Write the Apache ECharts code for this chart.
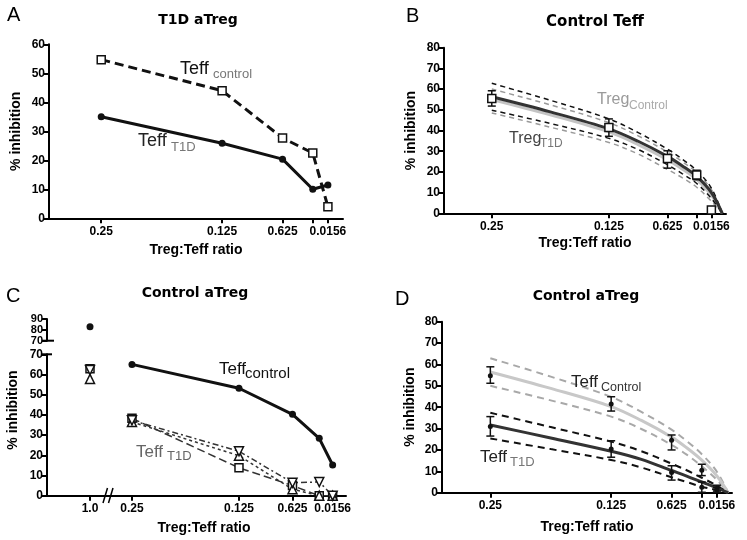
<!DOCTYPE html>
<html>
<head>
<meta charset="utf-8">
<script src="https://cdn.jsdelivr.net/npm/echarts@6/dist/echarts.min.js"></script>
<style>html,body{margin:0;padding:0;background:#fff;}#chart{width:747px;height:540px;}</style>
</head>
<body>
<div id="chart"></div>
<script>
// ---------- shared x ticks ----------
const xTickValues = [0.25, 0.125, 0.0625, 0.03125, 0.0156];
const xTickLabels = ['0.25', '0.125', '0.625', '', '0.0156'];
const ratios = [0.25, 0.125, 0.0625, 0.03125, 0.0156];
const curveX = [0.25, 0.1875, 0.125, 0.09375, 0.0625, 0.046875, 0.03125, 0.0156, 0.004];

// ---------- Panel A: T1D aTreg ----------
const aTeffControl = [54.7, 44.0, 27.7, 22.5, 4.0];
const aTeffT1D = [35.0, 25.9, 20.4, 10.0, 11.5];

// ---------- Panel B: Control Teff ----------
const bMean = [55.5, 41.5, 26.5, 18.5, 1.6];
const bLow = [51.8, 37.2, 21.8, 16.2, 1.6];
const bHigh = [59.2, 45.6, 30.2, 20.8, 1.6];
const bFitT1D = [56.3, 49.0, 40.8, 34.8, 27.5, 23.0, 17.8, 10.0, 0];
const bFitControl = [55.0, 47.6, 39.3, 33.2, 25.9, 21.4, 16.4, 8.8, 0];
const bCiT1DUpper = [62.8, 54.6, 45.6, 39.0, 31.0, 26.2, 20.6, 12.2, 0];
const bCiT1DLower = [49.8, 43.4, 36.2, 30.8, 23.5, 19.2, 14.4, 7.2, 0];
const bCiControlUpper = [60.0, 52.4, 43.8, 37.4, 29.6, 25.0, 19.6, 11.4, 0];
const bCiControlLower = [48.5, 41.6, 34.2, 28.6, 21.2, 17.2, 12.6, 5.8, 0];

// ---------- Panel C: Control aTreg ----------
const cOneLabel = ['1.0'];
const cOneControl = [82.9];
const cOneSquare = [62.8];
const cOneDown = [62.2];
const cOneUp = [57.8];
const cTeffControl = [65.0, 53.2, 40.3, 28.4, 15.2];
const cT1DSquare = [38.3, 13.8, 5.0, 0, 0];
const cT1DUp = [36.5, 19.8, 3.2, 0, 0];
const cT1DDown = [37.3, 22.0, 6.4, 6.8, 0];

// ---------- Panel D: Control aTreg ----------
const dCtrlMean = [54.7, 41.5, 24.5, 10.5, 2.0];
const dCtrlLow = [51.2, 38.2, 20.0, 8.0, 0.8];
const dCtrlHigh = [58.9, 44.9, 27.0, 13.3, 3.5];
const dT1DMean = [31.0, 20.5, 9.5, 2.5, 1.0];
const dT1DLow = [26.5, 16.6, 5.9, 0.2, 0.2];
const dT1DHigh = [35.6, 24.3, 12.6, 5.0, 2.5];
const dFitControl = [56.5, 48.8, 40.3, 33.8, 26.0, 21.0, 15.2, 7.8, 0];
const dCiControlUpper = [62.9, 54.3, 44.8, 37.8, 29.5, 24.2, 18.0, 9.8, 0];
const dCiControlLower = [50.0, 43.2, 35.6, 29.8, 22.4, 17.8, 12.4, 6.0, 0];
const dFitT1D = [31.7, 25.6, 19.4, 15.6, 10.4, 7.8, 5.0, 2.3, 0];
const dCiT1DUpper = [37.4, 30.7, 23.9, 19.4, 13.6, 10.5, 7.0, 3.3, 0];
const dCiT1DLower = [25.4, 20.4, 15.3, 11.8, 7.2, 5.0, 2.8, 1.2, 0];

const FONT = '"Liberation Sans", Arial, sans-serif';
const TFONT = '"DejaVu Sans", sans-serif';

function labelFor(v) {
  for (let i = 0; i < xTickValues.length; i++) {
    if (Math.abs(xTickValues[i] - v) < 1e-9) return xTickLabels[i];
  }
  return '';
}
const pairs = (xs, ys) => xs.map((x, i) => [x, ys[i]]);

function xVal(grid, max, name, gap) {
  return {
    type: 'value', gridIndex: grid, min: 0, max: max, inverse: true,
    axisLine: {show: true, onZero: false, lineStyle: {color: '#000', width: 2}},
    axisTick: {show: true, customValues: xTickValues, length: 5, lineStyle: {color: '#000', width: 2}},
    axisLabel: {show: true, customValues: xTickValues, formatter: labelFor, color: '#000',
      fontWeight: 'bold', fontSize: 12, fontFamily: FONT, margin: 7},
    splitLine: {show: false},
    name: name || '', nameLocation: 'middle', nameGap: gap || 25,
    nameTextStyle: {color: '#000', fontWeight: 'bold', fontSize: 14, fontFamily: FONT}
  };
}
function yVal(grid, min, max, show, name, gap, labelExtra) {
  return {
    type: 'value', gridIndex: grid, min: min, max: max, interval: 10, show: show,
    axisLine: {show: true, onZero: false, lineStyle: {color: '#000', width: 2}},
    axisTick: {show: true, length: 5, lineStyle: {color: '#000', width: 2}},
    axisLabel: Object.assign({show: true, showMinLabel: true, showMaxLabel: true, hideOverlap: false,
      color: '#000', fontWeight: 'bold', fontSize: 12, fontFamily: FONT, margin: 4}, labelExtra || {}),
    splitLine: {show: false},
    name: name || '', nameLocation: 'middle', nameGap: gap || 25,
    nameTextStyle: {color: '#000', fontWeight: 'bold', fontSize: 14, fontFamily: FONT}
  };
}
function line(grid, xs, ys, color, width, dash, symbol, extra) {
  const s = {
    type: 'line', xAxisIndex: grid, yAxisIndex: grid, data: pairs(xs, ys),
    lineStyle: {color: color, width: width, type: dash || 'solid'},
    symbol: symbol ? symbol.type : 'none', symbolSize: symbol ? symbol.size : 0,
    symbolRotate: symbol && symbol.rotate ? symbol.rotate : 0,
    itemStyle: symbol ? (symbol.open ? {color: '#fff', borderColor: '#111', borderWidth: 1.5, opacity: 1}
                                    : {color: '#111', borderColor: '#111', borderWidth: 0, opacity: 1}) : {color: color},
    showSymbol: !!symbol, animation: false, z: 3
  };
  return Object.assign(s, extra || {});
}
function curve(grid, ys, color, width, dash) {
  return line(grid, curveX, ys, color, width, dash, null, {smooth: 0.35, z: 2});
}
function errBars(grid, xs, lo, hi) {
  return {
    type: 'custom', xAxisIndex: grid, yAxisIndex: grid,
    data: xs.map((x, i) => [x, lo[i], hi[i]]),
    encode: {x: 0, y: [1, 2]}, z: 4, animation: false,
    renderItem: function (params, api) {
      const x = api.value(0), l = api.value(1), h = api.value(2);
      if (l === h) return null;
      const a = api.coord([x, l]), b = api.coord([x, h]);
      const w = 4, st = {stroke: '#111', lineWidth: 1.5};
      return {type: 'group', children: [
        {type: 'line', shape: {x1: a[0], y1: a[1], x2: b[0], y2: b[1]}, style: st},
        {type: 'line', shape: {x1: a[0] - w, y1: a[1], x2: a[0] + w, y2: a[1]}, style: st},
        {type: 'line', shape: {x1: b[0] - w, y1: b[1], x2: b[0] + w, y2: b[1]}, style: st}
      ]};
    }
  };
}
function scat(grid, xs, ys, symbol, size, open, rotate) {
  return {
    type: 'scatter', xAxisIndex: grid, yAxisIndex: grid, data: pairs(xs, ys),
    symbol: symbol, symbolSize: size, symbolRotate: rotate || 0, z: 5, animation: false,
    itemStyle: open ? {color: '#fff', borderColor: '#111', borderWidth: 1.5, opacity: 1} : {color: '#111', opacity: 1}
  };
}
function txt(x, y, text, font, fill, align, extra) {
  return Object.assign({
    type: 'text', x: x, y: y, z: 10,
    style: {text: text, x: 0, y: 0, font: font, fill: fill || '#000',
      align: align || 'left', textAlign: align || 'left', verticalAlign: 'middle', textVerticalAlign: 'middle'}
  }, extra || {});
}
function seg(x1, y1, x2, y2, w) {
  return {type: 'line', z: 10, shape: {x1: x1, y1: y1, x2: x2, y2: y2}, style: {stroke: '#000', lineWidth: w || 2}};
}

const chart = echarts.init(document.getElementById('chart'), null, {renderer: 'canvas'});
const catX = (grid, show) => ({
  type: 'category', gridIndex: grid, data: cOneLabel, show: show, boundaryGap: true,
  axisLine: {show: true, onZero: false, lineStyle: {color: '#000', width: 2}},
  axisTick: {show: true, alignWithLabel: true, length: 5, lineStyle: {color: '#000', width: 2}},
  axisLabel: {show: true, color: '#000', fontWeight: 'bold', fontSize: 12, fontFamily: FONT, margin: 7},
  splitLine: {show: false}
});

const option = {
  backgroundColor: '#fff',
  animation: false,
  grid: [
    {left: 49, top: 44.3, width: 294, height: 174, outerBoundsMode: 'none'},
    {left: 444, top: 47.7, width: 282, height: 165.6, outerBoundsMode: 'none'},
    {left: 47, top: 319, width: 86, height: 21.7, outerBoundsMode: 'none'},
    {left: 47, top: 354.3, width: 86, height: 141.4, outerBoundsMode: 'none'},
    {left: 108, top: 354.3, width: 238, height: 141.4, outerBoundsMode: 'none'},
    {left: 442, top: 321.7, width: 290, height: 171, outerBoundsMode: 'none'}
  ],
  xAxis: [
    xVal(0, 0.304, 'Treg:Teff ratio', 25),
    xVal(1, 0.301, 'Treg:Teff ratio', 23),
    catX(2, false),
    catX(3, true),
    xVal(4, 0.278),
    xVal(5, 0.3, 'Treg:Teff ratio', 27)
  ],
  yAxis: [
    yVal(0, 0, 60, true, '% inhibition', 26),
    yVal(1, 0, 80, true, '% inhibition', 26),
    yVal(2, 70, 90, true, '', 25, {fontSize: 11, lineHeight: 9}),
    yVal(3, 0, 70, true),
    yVal(4, 0, 70, false),
    yVal(5, 0, 80, true, '% inhibition', 25)
  ],
  series: [
    // A
    line(0, ratios, aTeffT1D, '#111', 3, 'solid', {type: 'circle', size: 7}),
    line(0, ratios, aTeffControl, '#111', 3, [9, 5], {type: 'rect', size: 8, open: true}),
    // B
    curve(1, bCiControlUpper, '#9a9a9a', 1.5, [5, 4]),
    curve(1, bCiControlLower, '#9a9a9a', 1.5, [5, 4]),
    curve(1, bFitControl, '#c4c4c4', 3, 'solid'),
    curve(1, bCiT1DUpper, '#111', 1.5, [5, 4]),
    curve(1, bCiT1DLower, '#111', 1.5, [5, 4]),
    curve(1, bFitT1D, '#333', 3, 'solid'),
    errBars(1, ratios, bLow, bHigh),
    scat(1, ratios, bMean, 'rect', 8, true),
    // C upper / left
    scat(2, cOneLabel, cOneControl, 'circle', 7, false),
    scat(3, cOneLabel, cOneSquare, 'rect', 8, true),
    scat(3, cOneLabel, cOneDown, 'triangle', 9, true, 180),
    scat(3, cOneLabel, cOneUp, 'triangle', 9, true),
    // C right
    line(4, ratios, cT1DSquare, '#333', 1.5, [8, 4], {type: 'rect', size: 8, open: true}),
    line(4, ratios, cT1DUp, '#333', 1.5, [3, 3], {type: 'triangle', size: 9, open: true}),
    line(4, ratios, cT1DDown, '#333', 1.5, [6, 3, 2, 3], {type: 'triangle', size: 9, open: true, rotate: 180}),
    line(4, ratios, cTeffControl, '#111', 3, 'solid', {type: 'circle', size: 7}),
    // D
    curve(5, dCiControlUpper, '#a8a8a8', 2, [7, 5]),
    curve(5, dCiControlLower, '#a8a8a8', 2, [7, 5]),
    curve(5, dFitControl, '#c8c8c8', 3, 'solid'),
    curve(5, dCiT1DUpper, '#111', 2, [7, 5]),
    curve(5, dCiT1DLower, '#111', 2, [7, 5]),
    curve(5, dFitT1D, '#333', 3, 'solid'),
    errBars(5, ratios, dCtrlLow, dCtrlHigh),
    errBars(5, ratios, dT1DLow, dT1DHigh),
    scat(5, ratios, dCtrlMean, 'circle', 5, false),
    scat(5, ratios, dT1DMean, 'circle', 5, false)
  ],
  graphic: [
    // panel letters
    txt(7, 15, 'A', '20px ' + FONT),
    txt(406, 16, 'B', '20px ' + FONT),
    txt(6, 296, 'C', '20px ' + FONT),
    txt(395, 299, 'D', '20px ' + FONT),
    // titles
    txt(198, 20, 'T1D aTreg', 'bold 14px ' + TFONT, '#000', 'center'),
    txt(595, 22.5, 'Control Teff', 'bold 15px ' + TFONT, '#000', 'center'),
    txt(195, 293, 'Control aTreg', 'bold 14px ' + TFONT, '#000', 'center'),
    txt(586, 296, 'Control aTreg', 'bold 14px ' + TFONT, '#000', 'center'),
    // annotations A
    txt(180, 69.5, 'Teff', '18px ' + FONT, '#111'),
    txt(213, 74, 'control', '13px ' + FONT, '#777'),
    txt(138, 141.5, 'Teff', '18px ' + FONT, '#222'),
    txt(171, 147, 'T1D', '13px ' + FONT, '#777'),
    // annotations B
    txt(597, 100, 'Treg', '16px ' + FONT, '#9a9a9a'),
    txt(629, 106, 'Control', '12px ' + FONT, '#aaa'),
    txt(509, 139, 'Treg', '16px ' + FONT, '#444'),
    txt(540, 144, 'T1D', '12px ' + FONT, '#777'),
    // annotations C
    txt(219, 369.5, 'Teff', '17px ' + FONT, '#111'),
    txt(245, 374, 'control', '15px ' + FONT, '#111'),
    txt(136, 452, 'Teff', '17px ' + FONT, '#666'),
    txt(167, 456, 'T1D', '13px ' + FONT, '#666'),
    // annotations D
    txt(571, 382.5, 'Teff', '17px ' + FONT, '#222'),
    txt(601, 387.5, 'Control', '12.5px ' + FONT, '#333'),
    txt(480, 457, 'Teff', '17px ' + FONT, '#222'),
    txt(510, 462, 'T1D', '13px ' + FONT, '#777'),
    // C axis names
    txt(13, 410, '% inhibition', 'bold 14px ' + FONT, '#000', 'center', {rotation: Math.PI / 2}),
    txt(204, 528, 'Treg:Teff ratio', 'bold 14px ' + FONT, '#000', 'center'),
    // C axis break marks
    seg(103, 503, 107.5, 488, 1.5),
    seg(108.5, 503, 113, 488, 1.5),
    seg(42, 340.7, 54, 340.7, 2),
    seg(42, 354.3, 52, 354.3, 2)
  ]
};
chart.setOption(option);
</script>
</body>
</html>
